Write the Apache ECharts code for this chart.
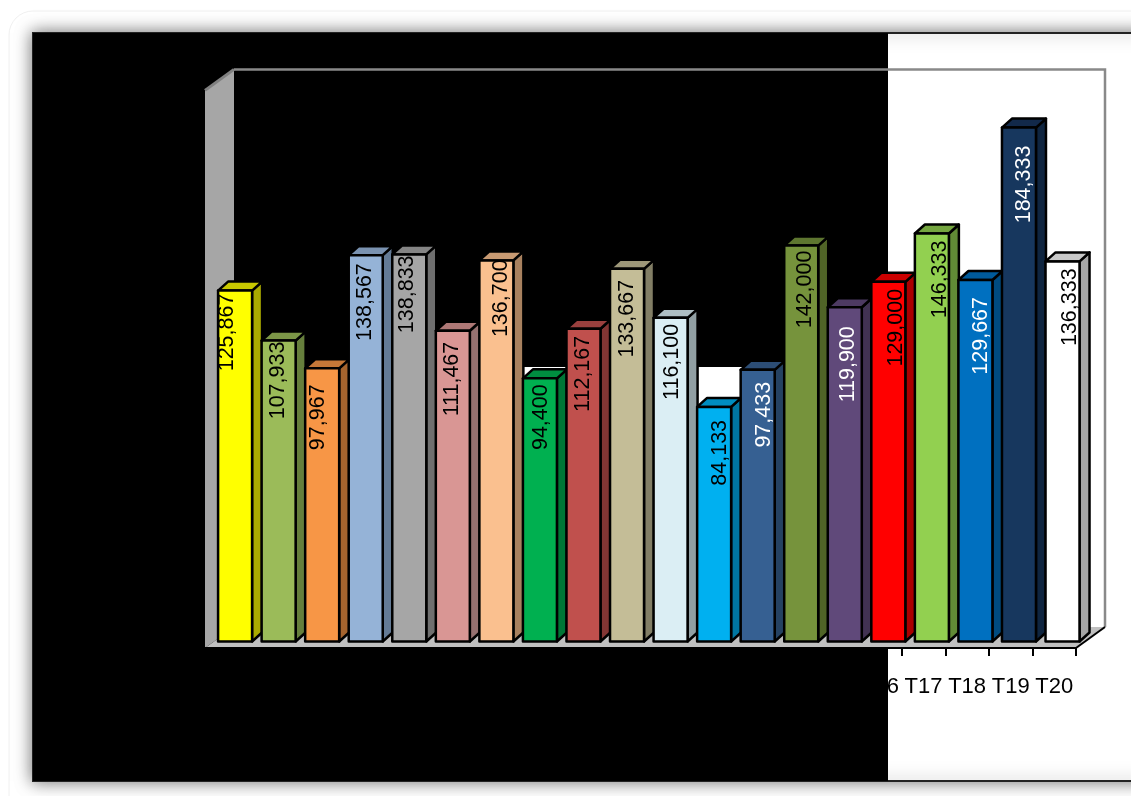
<!DOCTYPE html>
<html>
<head>
<meta charset="utf-8">
<style>html,body{margin:0;padding:0;background:#fff}#chart{width:1131px;height:796px}</style>
<script src="https://cdn.jsdelivr.net/npm/echarts@6/dist/echarts.min.js"></script>
</head>
<body>
<div id="chart"></div>
<script>
// Treatment totals, T1 to T20
const categories = ['T1','T2','T3','T4','T5','T6','T7','T8','T9','T10','T11','T12','T13','T14','T15','T16','T17','T18','T19','T20'];
const totals = [125867,107933,97967,138567,138833,111467,136700,94400,112167,133667,116100,84133,97433,142000,119900,129000,146333,129667,184333,136333];

// Per-bar appearance
const faceColors = ['#ffff00','#9bbb59','#f79646','#95b3d7','#a6a6a6','#d99694','#fac08f','#00b050','#c0504d','#c4bd97','#dbeef4','#00b0f0','#366092','#76933c','#60497a','#ff0000','#92d050','#0070c0','#17375e','#ffffff'];
const sideColors = ['#aaaa00','#667f3c','#a6642e','#647b96','#6f6f6f','#967170','#a8815f','#007636','#823634','#827e65','#919fa3','#0076a1','#254262','#506427','#413252','#aa0000','#618b36','#004b80','#0f2540','#a6a6a6'];
const topColors = ['#c8c800','#7c9647','#c67838','#7a92b0','#858585','#ae7876','#c89a72','#008d40','#9a403e','#9d9779','#aebec3','#008dc0','#2c4d75','#5e7630','#4d3a62','#cc0000','#75a640','#005a9a','#12294a','#c8c8c8'];
const labelColors = ['#000','#000','#000','#000','#000','#000','#000','#000','#000','#000','#000','#000','#fff','#000','#fff','#000','#000','#fff','#fff','#000'];
const labelDx = [-8,-1,-4,-1,-2,-1,5,1,0,0,2,6,6,4,3,8,8,6,5,8];
const labelDy = [3,1,16,8,1,11,-1,6,7,11,6,13,12,5,19,7,7,17,18,7];

// Plot box geometry
const plot = { left: 205, right: 1076, bottom: 648, height: 557.6, depthX: 29, depthY: 21 };
const barShift = { x: 8.3, y: 6.5 };
const barDepth = { x: 10, y: 9 };
const barWidth = 34;
const top0 = plot.bottom - plot.height;

const chart = echarts.init(document.getElementById('chart'));

function renderBar(params, api) {
  const i = api.value(0);
  const base = api.coord([i, 0]);
  const head = api.coord([i, api.value(1)]);
  const cx = base[0] + barShift.x;
  const x0 = cx - barWidth / 2, x1 = cx + barWidth / 2;
  const yb = base[1] - barShift.y, yt = head[1] - barShift.y;
  const dx = barDepth.x, dy = barDepth.y;
  const edge = { stroke: '#000', lineWidth: 2.5, lineJoin: 'round' };
  return {
    type: 'group',
    children: [
      { type: 'polygon', shape: { points: [[x1, yb], [x1, yt], [x1 + dx, yt - dy], [x1 + dx, yb - dy]] },
        style: Object.assign({ fill: sideColors[i] }, edge) },
      { type: 'polygon', shape: { points: [[x0, yt], [x1, yt], [x1 + dx, yt - dy], [x0 + dx, yt - dy]] },
        style: Object.assign({ fill: topColors[i] }, edge) },
      { type: 'rect', shape: { x: x0, y: yt, width: barWidth, height: yb - yt },
        style: Object.assign({ fill: faceColors[i] }, edge) },
      { type: 'text', x: cx + labelDx[i], y: yt + labelDy[i], rotation: Math.PI / 2,
        style: { text: api.value(1).toLocaleString('en-US'), x: 0, y: 0, align: 'right', verticalAlign: 'middle',
          fill: labelColors[i], font: '21.5px "Liberation Sans", Arial, sans-serif' } }
    ]
  };
}

const backX = plot.left + plot.depthX;
const backRight = plot.right + plot.depthX;
const backTop = top0 - plot.depthY;
const backBottom = plot.bottom - plot.depthY;

chart.setOption({
  animation: false,
  backgroundColor: '#ffffff',
  graphic: { elements: [
    // card and panel
    { type: 'rect', z: -10, shape: { x: 9, y: 11, width: 1200, height: 900, r: 24 }, style: { fill: '#fff', stroke: '#f0f0f0', lineWidth: 1 } },
    { type: 'rect', z: -9, shape: { x: 33, y: 33, width: 1130, height: 748 },
      style: { fill: '#fff', stroke: '#222', lineWidth: 2, shadowBlur: 16, shadowColor: 'rgba(0,0,0,0.55)' } },
    { type: 'rect', z: -8, shape: { x: 33, y: 33, width: 855, height: 748 }, style: { fill: '#000' } },
    // back wall below the dark band
    { type: 'rect', z: -7, shape: { x: backX, y: 367, width: 888 - backX, height: backBottom - 367 }, style: { fill: '#fff' } },
    // back wall frame
    { type: 'polyline', z: -6, shape: { points: [[backX, backTop], [backRight, backTop], [backRight, backBottom]] },
      style: { stroke: '#898989', lineWidth: 2.5, fill: null } },
    // left wall
    { type: 'polygon', z: -5, shape: { points: [[plot.left, top0], [backX, backTop], [backX, backBottom], [plot.left, plot.bottom]] },
      style: { fill: '#a6a6a6' } },
    { type: 'line', z: -4, shape: { x1: plot.left, y1: top0, x2: backX, y2: backTop }, style: { stroke: '#808080', lineWidth: 3 } },
    // floor
    { type: 'polygon', z: -5, shape: { points: [[plot.left, plot.bottom], [plot.right, plot.bottom], [backRight, backBottom], [backX, backBottom]] },
      style: { fill: '#c0c0c0' } },
    { type: 'line', z: -4, shape: { x1: plot.right, y1: plot.bottom, x2: backRight, y2: backBottom }, style: { stroke: '#000', lineWidth: 2 } }
  ] },
  grid: { left: plot.left, top: top0, width: plot.right - plot.left, height: plot.height, containLabel: false },
  xAxis: {
    type: 'category', data: categories, boundaryGap: true,
    axisLine: { show: true, lineStyle: { color: '#000', width: 2 } },
    axisTick: { show: true, length: 8, lineStyle: { color: '#000', width: 2 } },
    axisLabel: { interval: 0, color: '#000', margin: 28, fontSize: 22, fontFamily: '"Liberation Sans", Arial, sans-serif' },
    splitLine: { show: false }
  },
  yAxis: { type: 'value', min: 0, max: 200000, show: false, splitLine: { show: false } },
  series: [{
    type: 'custom',
    coordinateSystem: 'cartesian2d',
    clip: false,
    encode: { x: 0, y: 1 },
    data: categories.map((c, i) => [i, totals[i]]),
    renderItem: renderBar
  }]
});
</script>
</body>
</html>
